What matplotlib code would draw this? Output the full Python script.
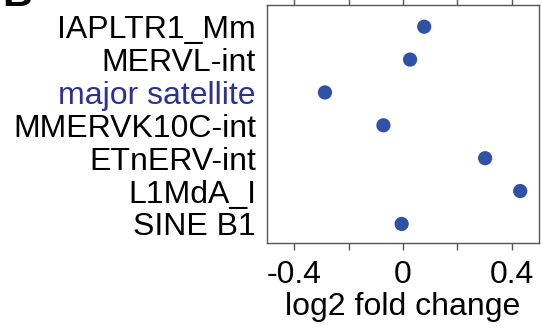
import matplotlib
matplotlib.use("Agg")
import matplotlib.pyplot as plt

categories = ["IAPLTR1_Mm", "MERVL-int", "major satellite", "MMERVK10C-int",
              "ETnERV-int", "L1MdA_I", "SINE B1"]
log2fc = [0.078, 0.026, -0.287, -0.072, 0.302, 0.431, -0.005]
xticks = [-0.4, -0.2, 0, 0.2, 0.4]
xticklabels = ["-0.4", "", "0", "", "0.4"]

plt.rcParams['font.family'] = ['Liberation Sans', 'DejaVu Sans']
W, H = 542, 329
fig = plt.figure(figsize=(W / 100, H / 100), dpi=100)
ax = fig.add_axes([267 / W, 1 - 243 / H, 272 / W, 238 / H])

ypos = list(range(len(categories)))
ax.scatter(log2fc, ypos, s=105, color="#2f52a6", edgecolors="none", zorder=3)

fs = 23
ax.set_xlim(-0.5, 0.5)
ax.set_ylim(len(categories) - 1 + 0.58, -0.66)
ax.set_yticks(ypos)
ax.set_yticklabels(categories, fontsize=fs)
for lbl, name in zip(ax.get_yticklabels(), categories):
    if name == "major satellite":
        lbl.set_color("#2e3192")
ax.tick_params(axis="y", length=0, pad=8)
ax.set_xticks(xticks)
ax.set_xticklabels(xticklabels, fontsize=fs)
ax.tick_params(axis="x", which="both", direction="out", length=5, width=1,
               color="#555555", top=True, bottom=True, pad=7)
ax.set_xlabel("log2 fold change", fontsize=fs, labelpad=2)
for sp in ax.spines.values():
    sp.set_color("#555555")
    sp.set_linewidth(1)

fig.text(2 / W, 1 - 6 / H, "B", fontsize=30, fontweight="bold", va="baseline", ha="left")

fig.savefig("out.png", dpi=100)
